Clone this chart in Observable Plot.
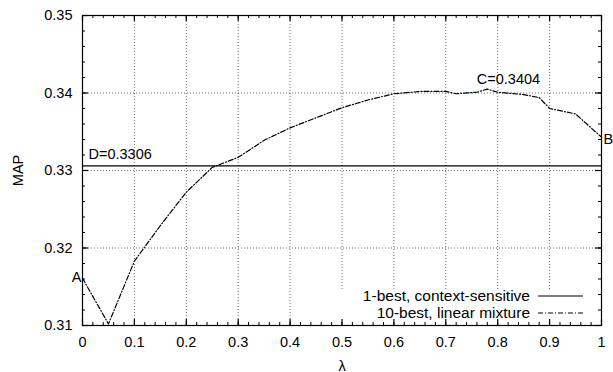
<!DOCTYPE html>
<html>
<head>
<meta charset="utf-8">
<script src="https://cdn.jsdelivr.net/npm/d3@7"></script>
<script src="https://cdn.jsdelivr.net/npm/@observablehq/plot@0.6"></script>
<style>
  html, body { margin: 0; padding: 0; background: #fff; }
  #wrap { position: relative; width: 613px; height: 372px; font-family: "Liberation Sans", Arial, sans-serif; }
  #legend { position: absolute; left: 330px; top: 287px; width: 260px; }
  .row { position: absolute; right: 0; height: 17px; display: flex; align-items: center; }
  .row span { font-size: 15.5px; color: #000; white-space: nowrap; margin-right: 8px; }
</style>
</head>
<body>
<div id="wrap"><div id="legend"></div></div>
<script>
// ---- data ----
const lambdas = [0, 0.05, 0.1, 0.15, 0.2, 0.25, 0.3, 0.35, 0.4, 0.45, 0.5, 0.55, 0.6, 0.65, 0.7, 0.72, 0.76, 0.78, 0.8, 0.85, 0.88, 0.9, 0.95, 1];
const mapLinear = [0.3161, 0.3102, 0.3183, 0.3229, 0.3272, 0.3304, 0.3317, 0.3339, 0.3355, 0.3368, 0.3381, 0.3391, 0.3399, 0.3402, 0.3402, 0.3399, 0.3401, 0.3405, 0.3401, 0.3398, 0.3394, 0.3380, 0.3373, 0.3343];
const contextSensitive = 0.3306;
const seriesNames = ["1-best, context-sensitive", "10-best, linear mixture"];
const seriesDash = ["none", "5,2,1,2"];
const xTicks = [0, 0.1, 0.2, 0.3, 0.4, 0.5, 0.6, 0.7, 0.8, 0.9, 1];
const yTicks = [0.31, 0.32, 0.33, 0.34, 0.35];
const xGrid = [0.1, 0.2, 0.3, 0.4, 0.5, 0.6, 0.7, 0.8, 0.9];
const yGrid = [0.32, 0.33, 0.34];
const labelA = {x: 0, y: 0.3161, text: "A"};
const labelB = {x: 1, y: 0.3343, text: "B"};
const labelC = {x: 0.786, y: 0.3405, text: "C=0.3404"};
const labelD = {x: 0, y: 0.3306, text: "D=0.3306"};

const W = 613, H = 372, ML = 82, MR = 12, MT = 15, MB = 47;
const PW = W - ML - MR, PH = H - MT - MB;
const curve = lambdas.map((l, i) => ({x: l, y: mapLinear[i]}));
const xMinor = d3.ticks(0, 1, 50);
const yMinor = d3.ticks(0.31, 0.35, 20);
const fmtX = d3.format("~g");
const fmtY = d3.format(".2f");
const txt = {x: "x", y: "y", text: "text", fontSize: 14.5, fill: "#000"};

// inward ticks on all four sides (length in px)
function ticksX(values, len, sw) {
  return [
    Plot.tickX(values, {x: d => d, stroke: "#000", strokeWidth: sw, insetTop: PH - len}),
    Plot.tickX(values, {x: d => d, stroke: "#000", strokeWidth: sw, insetBottom: PH - len})
  ];
}
function ticksY(values, len, sw) {
  return [
    Plot.tickY(values, {y: d => d, stroke: "#000", strokeWidth: sw, insetRight: PW - len}),
    Plot.tickY(values, {y: d => d, stroke: "#000", strokeWidth: sw, insetLeft: PW - len})
  ];
}

const chart = Plot.plot({
  width: W,
  height: H,
  marginLeft: ML,
  marginRight: MR,
  marginTop: MT,
  marginBottom: MB,
  style: {fontFamily: "Liberation Sans, Arial, sans-serif", fontSize: "14.5px", background: "#fff", color: "#000"},
  x: {domain: [0, 1]},
  y: {domain: [0.31, 0.35]},
  marks: [
    Plot.gridX(xGrid, {stroke: "#555", strokeOpacity: 0.85, strokeDasharray: "1,2", strokeWidth: 1}),
    Plot.gridY(yGrid, {stroke: "#555", strokeOpacity: 0.85, strokeDasharray: "1,2", strokeWidth: 1}),
    Plot.frame({fill: "#fff", stroke: null, insetLeft: 250, insetTop: 274}),
    Plot.frame({stroke: "#000", strokeWidth: 1.2}),
    // tick labels + axis titles
    Plot.axisX(xTicks, {anchor: "bottom", tickSize: 0, tickPadding: 11, tickFormat: fmtX, label: "λ", labelAnchor: "center", labelOffset: 45, labelArrow: "none"}),
    Plot.axisY(yTicks, {anchor: "left", tickSize: 0, tickPadding: 10, tickFormat: fmtY, label: "MAP", labelAnchor: "center", labelOffset: 70, labelArrow: "none"}),
    ...ticksX(xTicks, 6, 1.2),
    ...ticksY(yTicks, 6, 1.2),
    ...ticksX(xMinor, 3, 1),
    ...ticksY(yMinor, 3, 1),
    // series
    Plot.ruleY([contextSensitive], {stroke: "#000", strokeWidth: 1.4}),
    Plot.line(curve, {x: "x", y: "y", stroke: "#000", strokeWidth: 1.2, strokeDasharray: seriesDash[1]}),
    // point labels
    Plot.text([labelA], {...txt, textAnchor: "end", dx: -1, dy: -1}),
    Plot.text([labelB], {...txt, textAnchor: "start", dx: 2, dy: 2}),
    Plot.text([labelC], {...txt, textAnchor: "middle", dx: 18, dy: -10}),
    Plot.text([labelD], {...txt, textAnchor: "start", dx: 6, dy: -11})
  ]
});

document.getElementById("wrap").insertBefore(chart, document.getElementById("legend"));

// legend
const legend = d3.select("#legend");
seriesNames.forEach((name, i) => {
  const row = legend.append("div").attr("class", "row").style("top", (i * 17) + "px");
  row.append("span").text(name);
  const svg = row.append("svg").attr("width", 45).attr("height", 4).style("margin-right", "7px");
  svg.append("line").attr("x1", 0).attr("x2", 45).attr("y1", 2).attr("y2", 2)
    .attr("stroke", "#000").attr("stroke-width", 1.2)
    .attr("stroke-dasharray", seriesDash[i] === "none" ? null : seriesDash[i]);
});
</script>
</body>
</html>
